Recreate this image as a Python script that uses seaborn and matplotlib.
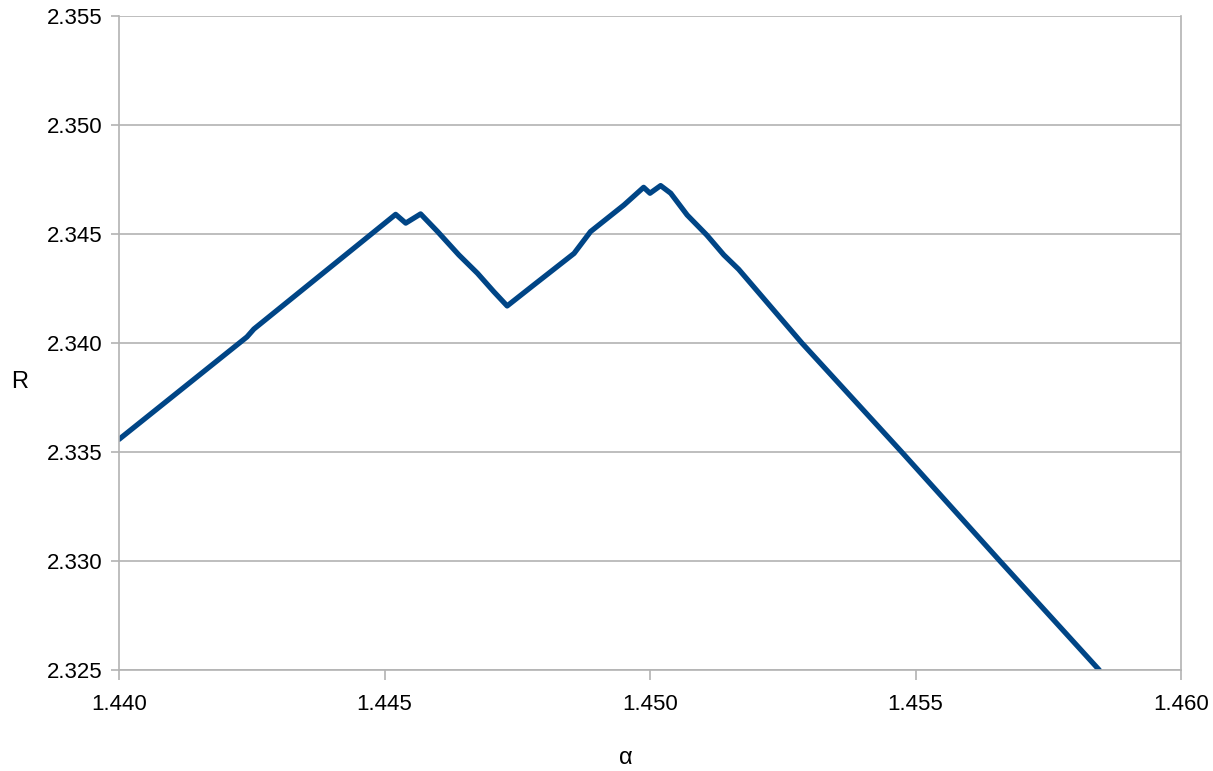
import matplotlib
matplotlib.use("Agg")
import matplotlib.pyplot as plt
import seaborn as sns
import pandas as pd

# Computed curve R(α)
alpha = [1.44000, 1.44241, 1.44254, 1.44521, 1.44540, 1.44568, 1.44600,
         1.44640, 1.44675, 1.44706, 1.44731, 1.44781, 1.44857, 1.44888,
         1.44951, 1.44988, 1.45000, 1.45020, 1.45039, 1.45070, 1.45107,
         1.45139, 1.45167, 1.45286, 1.45474, 1.45659, 1.45846]
R = [2.33558, 2.34028, 2.34064, 2.34590, 2.34550, 2.34592, 2.34511,
     2.34404, 2.34320, 2.34235, 2.34170, 2.34266, 2.34411, 2.34511,
     2.34633, 2.34714, 2.34687, 2.34722, 2.34687, 2.34587, 2.34495,
     2.34404, 2.34338, 2.34000, 2.33500, 2.33000, 2.32500]

x_ticks = [1.440, 1.445, 1.450, 1.455, 1.460]
y_ticks = [2.325, 2.330, 2.335, 2.340, 2.345, 2.350, 2.355]

df = pd.DataFrame({"alpha": alpha, "R": R})

sns.set_theme(style="white")
plt.rcParams["font.family"] = ["Liberation Sans", "DejaVu Sans"]

fig = plt.figure(figsize=(12.13, 7.71), dpi=100)
ax = fig.add_axes([119 / 1213, 1 - 670 / 771, 1062 / 1213, 654 / 771])

grid_col = "#b3b3b3"
sns.lineplot(data=df, x="alpha", y="R", ax=ax, color="#004586",
             linewidth=3.8, estimator=None, sort=False)

ax.set_xlim(x_ticks[0], x_ticks[-1])
ax.set_ylim(y_ticks[0], y_ticks[-1])
ax.set_xticks(x_ticks)
ax.set_yticks(y_ticks)
ax.set_xticklabels([f"{v:.3f}" for v in x_ticks], fontsize=16, color="black")
ax.set_yticklabels([f"{v:.3f}" for v in y_ticks], fontsize=16, color="black")

ax.yaxis.grid(True, color=grid_col, linewidth=1.2)
ax.xaxis.grid(False)
ax.set_axisbelow(True)
for s in ax.spines.values():
    s.set_color(grid_col)
    s.set_linewidth(1.2)
ax.spines["top"].set_visible(False)

ax.tick_params(axis="y", direction="out", length=6, width=1.2, color=grid_col,
               pad=6, left=True)
ax.tick_params(axis="x", direction="out", length=7, width=1.2, color=grid_col,
               pad=10, bottom=True)

ax.set_xlabel("α", fontsize=17, color="black")
ax.set_ylabel("R", fontsize=17, color="black", rotation=0)
ax.xaxis.set_label_coords(0.477, -0.135)
ax.yaxis.set_label_coords(-0.094, 0.44)
ax.yaxis.label.set_verticalalignment("center")
ax.xaxis.label.set_verticalalignment("center")

fig.savefig("out.png", dpi=100, facecolor="white")
